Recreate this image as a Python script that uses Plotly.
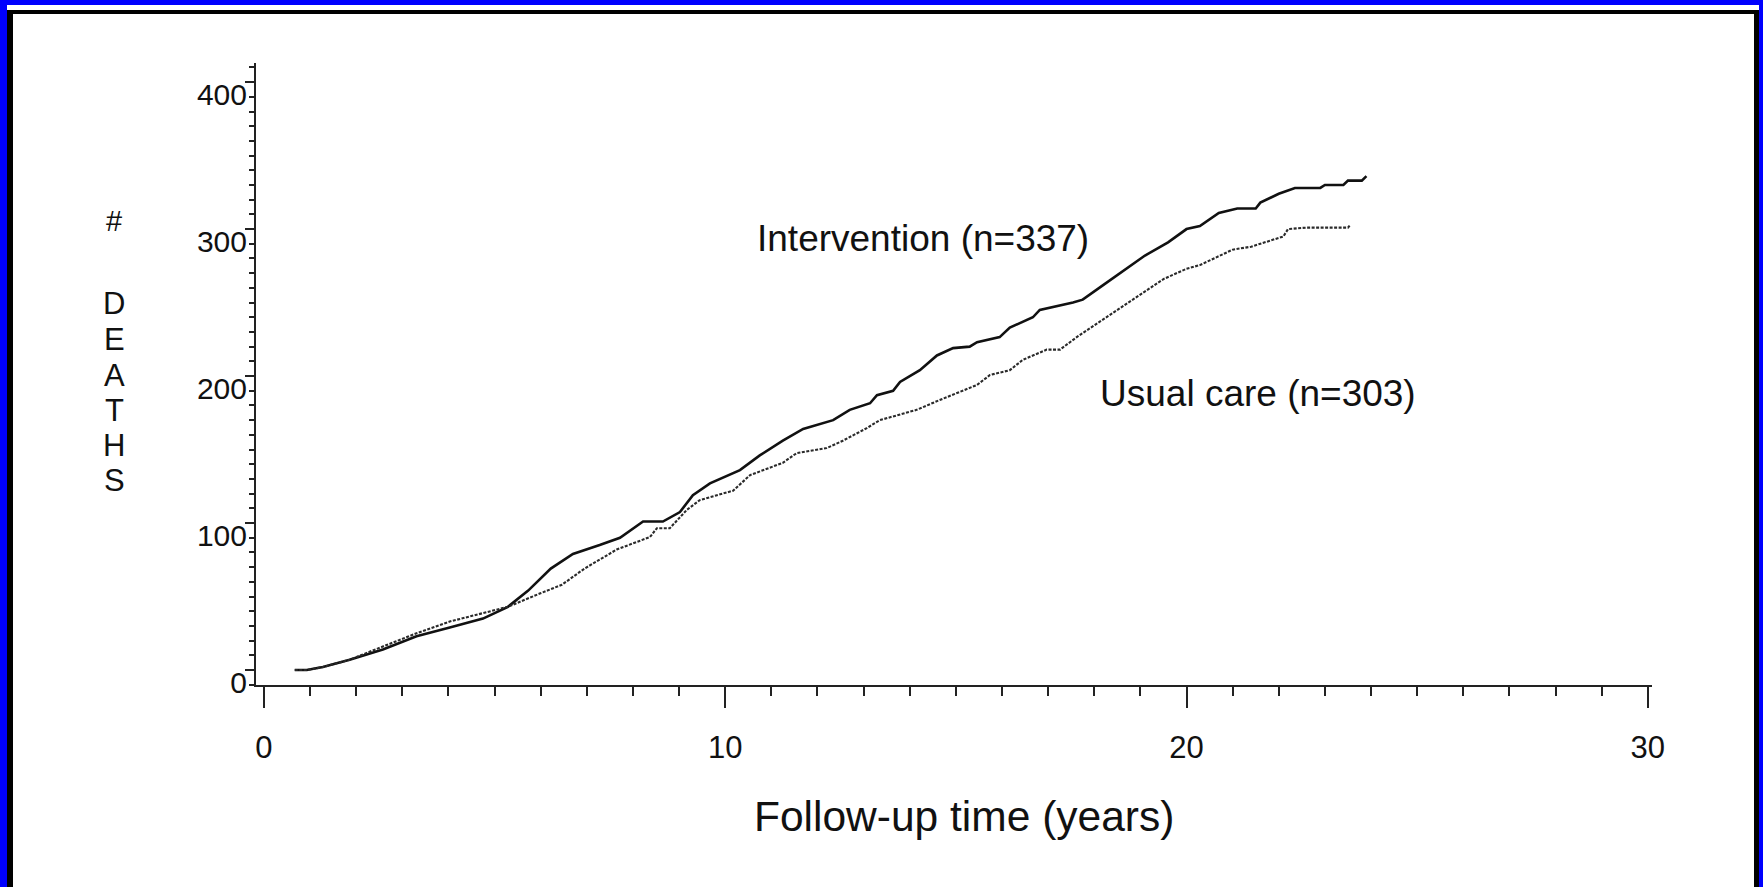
import plotly.graph_objects as go

# ---- data ----
int_years = [0.67, 0.93, 1.28, 1.86, 2.58, 3.31, 4.03, 4.75, 5.29, 5.73, 6.22, 6.7, 7.28, 7.72,
             8.22, 8.65, 9.02, 9.30, 9.67, 10.04, 10.32, 10.75, 11.25, 11.69, 12.34, 12.7, 13.14,
             13.29, 13.64, 13.79, 14.22, 14.59, 14.94, 15.3, 15.46, 15.95, 16.17, 16.67, 16.82,
             17.54, 17.75, 18.2, 18.65, 19.1, 19.6, 20.0, 20.29, 20.7, 21.1, 21.5, 21.6, 22.0,
             22.35, 22.9, 23.0, 23.4, 23.5, 23.8, 23.9]
int_deaths = [0, 0, 2, 7, 14, 23, 29, 35, 43, 54, 69, 79, 85, 90,
              101, 101, 107.5, 119, 127, 132, 136, 146, 156, 164, 170, 177, 181.5,
              187, 190, 196, 204, 214, 219, 220, 223, 226.5, 233, 240, 245,
              250, 252, 262, 272, 282, 291, 300, 302, 311, 314, 314, 318, 324,
              328, 328, 330, 330, 333, 333, 336]

uc_years = [0.67, 0.93, 1.28, 1.86, 2.58, 3.0, 3.31, 4.03, 4.75, 5.29, 5.98, 6.46, 6.95, 7.28,
            7.65, 8.37, 8.52, 8.8, 9.17, 9.45, 10.17, 10.54, 11.25, 11.55, 12.2, 12.55, 13.07,
            13.35, 14.15, 14.65, 15.09, 15.46, 15.74, 16.17, 16.45, 16.97, 17.26, 17.62, 18.12,
            18.5, 19.0, 19.5, 20.0, 20.29, 21.0, 21.4, 22.1, 22.2, 22.6, 23.5, 23.55]
uc_deaths = [0, 0, 2, 7, 16, 21, 25, 33, 39, 43, 52, 58, 69, 75,
             82, 90.5, 96.5, 96.5, 109, 115.6, 122, 132.6, 141, 147.6, 151, 156, 164.6,
             170, 177, 183.7, 189, 194, 200.7, 204, 211, 218, 218, 226.5, 237,
             245, 256, 266, 273, 275.5, 286, 288, 295, 300, 301, 301, 303]

x_ticks = [0, 10, 20, 30]
y_ticks = [0, 100, 200, 300, 400]
ylabel_chars = ["#", "D", "E", "A", "T", "H", "S"]

# ---- layout geometry (pixels) ----
W, H = 1763, 887
L, R, T, B = 256, 111, 63, 202
PW, PH = W - L - R, H - T - B


def px(x):
    return (x - L) / PW


def py(y):
    return (H - B - y) / PH


FONT = "Liberation Sans, Arial, Helvetica, sans-serif"

fig = go.Figure()
fig.add_trace(go.Scatter(x=int_years, y=int_deaths, mode="lines",
                         line=dict(color="#111111", width=2.6), showlegend=False))
fig.add_trace(go.Scatter(x=uc_years, y=uc_deaths, mode="lines",
                         line=dict(color="#2a2a2a", width=2.1, dash="3px,1.5px"), showlegend=False))

shapes = [
    dict(type="rect", xref="paper", yref="paper", x0=px(7), x1=px(1759), y0=py(10), y1=py(H),
         fillcolor="#000000", line=dict(width=0), layer="below"),
    dict(type="rect", xref="paper", yref="paper", x0=px(7), x1=px(1759), y0=py(5), y1=py(10),
         fillcolor="#ffffff", line=dict(width=0), layer="below"),
    dict(type="rect", xref="paper", yref="paper", x0=px(13), x1=px(1754), y0=py(14), y1=py(H),
         fillcolor="#ffffff", line=dict(width=0), layer="below"),
]

annotations = [
    dict(text="Intervention (n=337)", xref="paper", yref="paper", x=px(755), y=py(239),
         xanchor="left", yanchor="middle", showarrow=False, font=dict(size=37, color="#111", family=FONT)),
    dict(text="Usual care (n=303)", xref="paper", yref="paper", x=px(1098), y=py(393),
         xanchor="left", yanchor="middle", showarrow=False, font=dict(size=37, color="#111", family=FONT)),
    dict(text="Follow-up time (years)", xref="paper", yref="paper", x=px(964), y=py(816),
         xanchor="center", yanchor="middle", showarrow=False, font=dict(size=42.5, color="#111", family=FONT)),
]
char_y = [221, 303, 339, 375, 410, 445, 480]
for ch, cy in zip(ylabel_chars, char_y):
    annotations.append(dict(text=ch, xref="paper", yref="paper", x=px(114), y=py(cy),
                            xanchor="center", yanchor="middle", showarrow=False,
                            font=dict(size=31 if ch != "#" else 29, color="#111", family=FONT)))

fig.update_layout(
    width=W, height=H, autosize=False,
    margin=dict(l=L, r=R, t=T, b=B, pad=0),
    paper_bgcolor="#0000FE", plot_bgcolor="rgba(0,0,0,0)",
    shapes=shapes, annotations=annotations,
    font=dict(family=FONT, color="#111"),
    xaxis=dict(range=[-0.17, 30.09], tickvals=x_ticks, ticktext=[str(v) for v in x_ticks],
               showgrid=False, zeroline=False, showline=True, linecolor="#222", linewidth=2,
               ticks="outside", ticklen=21, tickwidth=2, tickcolor="#222",
               tickfont=dict(size=31, color="#111", family=FONT), ticklabelstandoff=13,
               minor=dict(dtick=1, tick0=0, ticks="outside", ticklen=9, tickwidth=2, tickcolor="#222")),
    yaxis=dict(range=[-10.2, 413], tickvals=y_ticks, ticktext=[str(v) for v in y_ticks],
               showgrid=False, zeroline=False, showline=True, linecolor="#222", linewidth=2,
               ticks="outside", ticklen=9, tickwidth=1.5, tickcolor="#222",
               tickfont=dict(size=30, color="#111", family=FONT),
               ticklabelshift=12, ticklabelstandoff=-8,
               minor=dict(dtick=10, tick0=0, ticks="outside", ticklen=5, tickwidth=1.5, tickcolor="#222")),
)

fig.write_html("out.html")
